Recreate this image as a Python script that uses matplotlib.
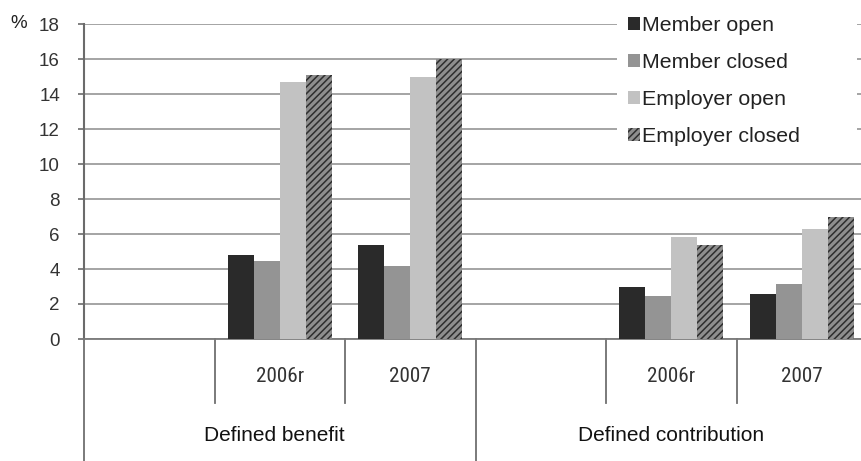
import numpy as np
import matplotlib
matplotlib.use("Agg")
import matplotlib.pyplot as plt
from matplotlib import font_manager
from matplotlib.transforms import blended_transform_factory

plt.rcParams["font.family"] = ["Liberation Sans", "DejaVu Sans"]
plt.rcParams["hatch.linewidth"] = 1.1

# Categories: each scheme type has an empty slot followed by two years
groups = ["Defined benefit", "Defined contribution"]
years = ["", "2006r", "2007", "", "2006r", "2007"]
series_names = ["Member open", "Member closed", "Employer open", "Employer closed"]

member_open = [np.nan, 4.8, 5.4, np.nan, 2.95, 2.6]
member_closed = [np.nan, 4.45, 4.2, np.nan, 2.45, 3.15]
employer_open = [np.nan, 14.7, 15.0, np.nan, 5.85, 6.3]
employer_closed = [np.nan, 15.1, 16.0, np.nan, 5.4, 7.0]

yticks = list(range(0, 19, 2))

# Pick a narrow face for the year labels when one is installed
installed = {(f.name, f.stretch) for f in font_manager.fontManager.ttflist}
names = {n for n, _ in installed}
year_font = dict(family=["Liberation Sans"], fontsize=14.5)
for cand in ["Liberation Sans Narrow", "Arial Narrow", "Roboto Condensed",
             "Open Sans Condensed", "Noto Sans Condensed"]:
    if cand in names:
        year_font = dict(family=[cand], fontsize=15.2)
        break
else:
    for n, st in installed:
        if n in ("DejaVu Sans", "Noto Sans", "Open Sans") and str(st) in (
                "condensed", "semi-condensed", "75", "87"):
            year_font = dict(family=[n], fontstretch=st, fontsize=15)
            break

W, H, DPI = 861, 461, 100
fig = plt.figure(figsize=(W / DPI, H / DPI), dpi=DPI, facecolor="white")

# Plot area in pixels
left_px, right_px, zero_px, top_px = 84, 861, 339, 24
cat_px = 130.5
ax = fig.add_axes([left_px / W, (H - zero_px) / H,
                   (right_px - left_px) / W, (zero_px - top_px) / H])

x = np.arange(len(years))
bw = 0.2
styles = [
    dict(color="#2a2a2a"),
    dict(color="#949494"),
    dict(color="#c2c2c2"),
    dict(facecolor="#8e8e8e", edgecolor="#2e2e2e", hatch="/////"),
]
series = [member_open, member_closed, employer_open, employer_closed]
handles = []
for k, (vals, st, name) in enumerate(zip(series, styles, series_names)):
    b = ax.bar(x + (k - 1.5) * bw, vals, width=bw, linewidth=0, label=name,
               zorder=3, **st)
    handles.append(b)

ax.set_xlim(-0.5, -0.5 + (right_px - left_px) / cat_px)
ax.set_ylim(0, 18)
ax.set_yticks(yticks)
ax.set_xticks([])

ax.grid(axis="y", color="#a4a4a4", linewidth=1.4, zorder=0)
ax.set_axisbelow(True)

for s in ["top", "right"]:
    ax.spines[s].set_visible(False)
ax.spines["left"].set_color("#6b6b6b")
ax.spines["left"].set_linewidth(1.5)
ax.spines["bottom"].set_color("#7a7a7a")
ax.spines["bottom"].set_linewidth(1.3)

ax.tick_params(axis="y", direction="out", length=4.3, width=1.2, color="#6b6b6b",
               pad=13, labelsize=13.5, labelcolor="#333333")

fig.text(19 / W, 1 - 24 / H, "%", ha="center", va="center", fontsize=13.5,
         color="#222222")

# Multi-level category axis below the plot
trans = blended_transform_factory(ax.transData, ax.transAxes)
ax_h = zero_px - top_px
minor_len = -64 / ax_h
major_len = -130 / ax_h
line_kw = dict(transform=trans, clip_on=False, color="#6f6f6f", linewidth=1.3)
ax.plot([-0.5, -0.5], [0, major_len], **line_kw)
for bnd in [0.5, 1.5, 3.5, 4.5]:
    ax.plot([bnd, bnd], [0, minor_len], **line_kw)
ax.plot([2.5, 2.5], [0, major_len], **line_kw)

for i, yr in enumerate(years):
    if yr:
        ax.text(i, -37 / ax_h, yr, transform=trans, ha="center", va="center",
                color="#333333", **year_font)
for g, name in enumerate(groups):
    ax.text(1 + 3 * g - 0.04 * (1 - g), -96 / ax_h, name, transform=trans,
            ha="center", va="center", fontsize=15, color="#111111")

leg = ax.legend(handles=handles, loc="upper left",
                bbox_to_anchor=(617 / W, 0, 240 / W, 1 - 5 / H),
                bbox_transform=fig.transFigure, mode="expand",
                frameon=True, facecolor="white", edgecolor="none",
                framealpha=1, fancybox=False, fontsize=15.4,
                handlelength=0.56, handleheight=0.56, handletextpad=0.12,
                labelspacing=0.85, borderpad=0.5, borderaxespad=0)
for t in leg.get_texts():
    t.set_color("#222222")
leg.set_zorder(5)

fig.savefig("out.png", dpi=DPI, facecolor="white")
